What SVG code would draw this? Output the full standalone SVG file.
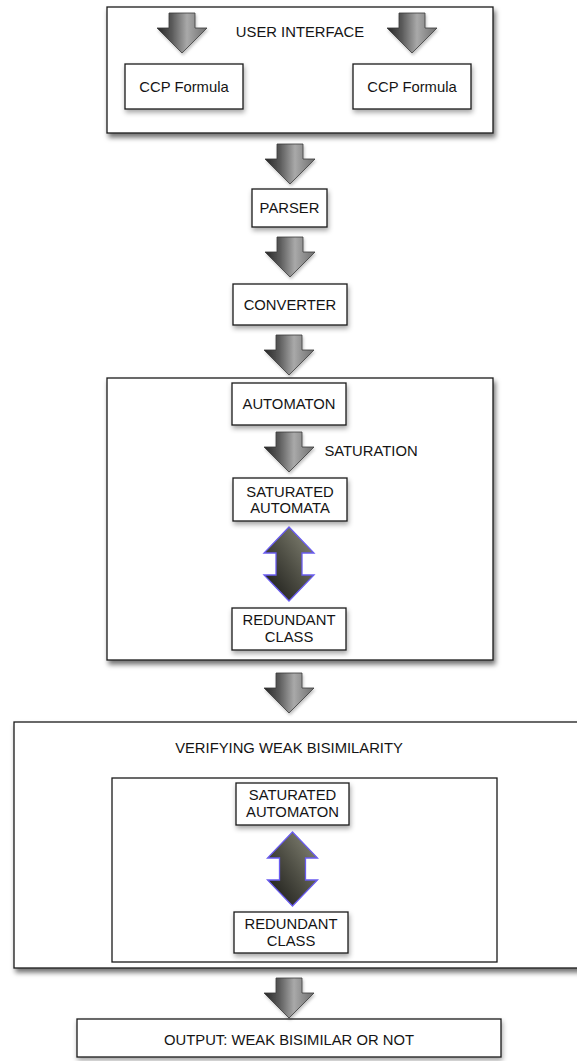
<svg xmlns="http://www.w3.org/2000/svg" xmlns:xlink="http://www.w3.org/1999/xlink" width="577" height="1061" viewBox="0 0 577 1061">
<style>
.box{fill:#fff;stroke:#1a1a1a;stroke-width:1.3}
.big{filter:url(#shBig)}
.small{filter:url(#shSmall)}
.t{font-family:"Liberation Sans",Arial,Helvetica,sans-serif;font-size:14.8px;fill:#141414;text-anchor:middle}
.arrow{fill:url(#gArrow);stroke:#3a3a3a;stroke-width:0.8;filter:url(#shArrow)}
.darrow{fill:url(#gDouble);stroke:#6a5cf0;stroke-width:1.3}
</style>
<defs>
<filter id="shBig" x="-10%" y="-10%" width="125%" height="130%">
<feDropShadow dx="2" dy="4" stdDeviation="2.5" flood-color="#000" flood-opacity="0.55"/>
</filter>
<filter id="shSmall" x="-20%" y="-20%" width="140%" height="160%">
<feDropShadow dx="1" dy="3" stdDeviation="2.5" flood-color="#000" flood-opacity="0.35"/>
</filter>
<filter id="shArrow" x="-30%" y="-30%" width="160%" height="160%">
<feDropShadow dx="1" dy="2" stdDeviation="1.5" flood-color="#000" flood-opacity="0.25"/>
</filter>
<linearGradient id="gArrow" x1="0" y1="0" x2="1" y2="0">
<stop offset="0" stop-color="#262626"/>
<stop offset="0.3" stop-color="#5a5a5a"/>
<stop offset="0.6" stop-color="#a9a9a9"/>
<stop offset="1" stop-color="#6e6e6e"/>
</linearGradient>
<linearGradient id="gDouble" x1="1" y1="0" x2="0" y2="1">
<stop offset="0" stop-color="#8c8c7c"/>
<stop offset="0.5" stop-color="#4e4e44"/>
<stop offset="1" stop-color="#141412"/>
</linearGradient>
<path id="arr" class="arrow" d="M-13,0 L13,0 L13,15 L25,15 L0,40 L-25,15 L-13,15 Z"/>
<path id="darr" class="darrow" d="M0,0 L25,26 L13,26 L13,48 L25,48 L0,74 L-25,48 L-13,48 L-13,26 L-25,26 Z"/>
</defs>
<rect width="577" height="1061" fill="#fff"/>

<g id="user-interface">
<rect class="box big" x="107" y="7" width="386" height="126"/>
<text class="t" x="300" y="37">USER INTERFACE</text>
</g>
<g id="ccp-formula-1">
<rect class="box small" x="125" y="64" width="118" height="45"/>
<text class="t" x="184" y="92">CCP Formula</text>
</g>
<g id="ccp-formula-2">
<rect class="box small" x="353" y="64" width="118" height="45"/>
<text class="t" x="412" y="92">CCP Formula</text>
</g>
<g id="parser">
<rect class="box small" x="252" y="189" width="75" height="38"/>
<text class="t" x="289.5" y="213">PARSER</text>
</g>
<g id="converter">
<rect class="box small" x="233" y="284" width="114" height="41"/>
<text class="t" x="290" y="310">CONVERTER</text>
</g>
<g id="automaton-stage">
<rect class="box big" x="107" y="378" width="386" height="282"/>
</g>
<g id="automaton">
<rect class="box small" x="232" y="383" width="114" height="42"/>
<text class="t" x="289" y="409">AUTOMATON</text>
</g>
<g id="saturation-label">
<text class="t" x="371" y="456">SATURATION</text>
</g>
<g id="saturated-automata">
<rect class="box small" x="233" y="478" width="114" height="43"/>
<text class="t" x="290" y="496.5">SATURATED</text>
<text class="t" x="290" y="513">AUTOMATA</text>
</g>
<g id="redundant-class-1">
<rect class="box small" x="232" y="608" width="114" height="42"/>
<text class="t" x="289" y="625">REDUNDANT</text>
<text class="t" x="289" y="642">CLASS</text>
</g>
<g id="verifying">
<rect class="box big" x="14" y="722" width="575" height="246"/>
<text class="t" x="289" y="753">VERIFYING WEAK BISIMILARITY</text>
</g>
<g id="verifying-inner">
<rect class="box" x="112" y="778" width="385" height="184"/>
</g>
<g id="saturated-automaton">
<rect class="box small" x="236" y="783" width="113" height="42"/>
<text class="t" x="292.5" y="800">SATURATED</text>
<text class="t" x="292.5" y="817">AUTOMATON</text>
</g>
<g id="redundant-class-2">
<rect class="box small" x="234" y="912" width="114" height="41"/>
<text class="t" x="291" y="929">REDUNDANT</text>
<text class="t" x="291" y="946">CLASS</text>
</g>
<g id="output">
<rect class="box small" x="77" y="1019" width="424" height="38"/>
<text class="t" x="289" y="1045">OUTPUT: WEAK BISIMILAR OR NOT</text>
</g>

<g id="connectors">
<use xlink:href="#arr" href="#arr" transform="translate(182,13)"/>
<use xlink:href="#arr" href="#arr" transform="translate(412,13)"/>
<use xlink:href="#arr" href="#arr" transform="translate(290,144)"/>
<use xlink:href="#arr" href="#arr" transform="translate(290,237)"/>
<use xlink:href="#arr" href="#arr" transform="translate(289,335)"/>
<use xlink:href="#arr" href="#arr" transform="translate(289,432)"/>
<use xlink:href="#darr" href="#darr" transform="translate(289,527)"/>
<use xlink:href="#arr" href="#arr" transform="translate(289,673)"/>
<use xlink:href="#darr" href="#darr" transform="translate(292.5,832)"/>
<use xlink:href="#arr" href="#arr" transform="translate(289,978)"/>
</g>
</svg>
